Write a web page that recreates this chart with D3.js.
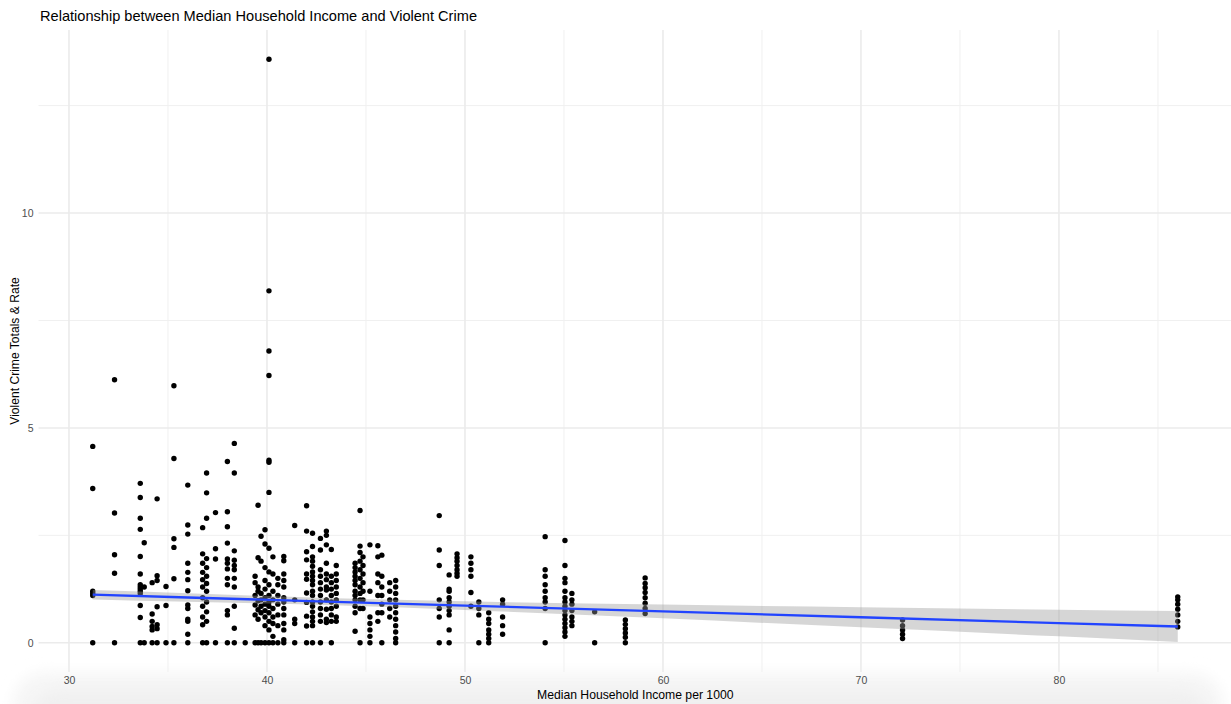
<!DOCTYPE html>
<html>
<head>
<meta charset="utf-8">
<script src="https://cdn.jsdelivr.net/npm/d3@7"></script>
<style>
  html, body { margin: 0; padding: 0; background: #ffffff; }
  svg { display: block; font-family: "Liberation Sans", Arial, Helvetica, sans-serif; }
</style>
</head>
<body>
<svg id="chart" width="1231" height="704"></svg>
<script>
// Median household income (thousands) for each group of cities
const incomeGroups = [
  31.2, 32.3, 33.6, 33.8, 34.2, 34.45, 34.9, 35.3, 36.0, 36.75,
  36.95, 37.4, 38.0, 38.35, 38.9, 39.4, 39.55, 39.7, 39.9, 40.1,
  40.3, 40.55, 40.85, 41.4, 42.0, 42.3, 42.7, 43.0, 43.25, 43.5,
  44.45, 44.7, 44.85, 45.2, 45.6, 45.8, 46.2, 46.5, 48.7, 49.2,
  49.6, 50.3, 50.7, 51.2, 51.9, 54.05, 55.05, 55.4, 56.55, 58.1,
  59.1, 72.1, 86.0
];

// Violent crime totals & rate observed within each income group
const crimeRates = [
  [4.57, 3.59, 1.2, 1.15, 1.1, 0],
  [6.12, 3.02, 2.05, 1.62, 0],
  [3.71, 3.38, 2.9, 2.64, 2.01, 1.6, 1.35, 1.3, 1.25, 1.2, 1.15, 0.87, 0.59, 0],
  [2.33, 1.3, 0],
  [1.4, 0.67, 0.5, 0.38, 0.3, 0],
  [3.35, 1.56, 1.45, 0.84, 0.42, 0.33, 0],
  [1.31, 0.87, 0],
  [5.98, 4.29, 2.42, 2.22, 1.49, 0],
  [3.67, 2.74, 2.53, 1.85, 1.64, 1.47, 1.21, 0.88, 0.8, 0.55, 0.5, 0.2, 0],
  [2.68, 2.07, 1.85, 1.64, 1.47, 1.3, 1.05, 0.85, 0.6, 0.42, 0],
  [3.95, 3.49, 2.9, 1.96, 1.75, 1.55, 1.38, 1.2, 0.95, 0.72, 0.5, 0],
  [3.03, 2.19, 1.95, 0],
  [4.22, 3.05, 2.7, 2.32, 1.95, 1.85, 1.72, 1.5, 1.35, 0.75, 0.65, 0],
  [4.64, 3.95, 2.14, 1.92, 1.8, 1.7, 1.5, 1.3, 0.85, 0.34, 0],
  [0],
  [1.55, 1.4, 1.1, 0.88, 0.65, 0],
  [3.2, 1.98, 1.3, 1.2, 0.98, 0.77, 0.55, 0],
  [2.48, 1.9, 1.15, 1.0, 0.85, 0.7, 0],
  [2.63, 2.3, 1.75, 1.45, 1.25, 1.05, 0.9, 0.75, 0.6, 0.4, 0],
  [13.58, 8.19, 6.79, 6.22, 4.25, 4.2, 3.5, 2.2, 1.65, 1.35, 1.1, 0.95, 0.85, 0.7, 0.5, 0.3, 0],
  [2.0, 1.6, 1.2, 1.0, 0.8, 0.6, 0.45, 0.15, 0],
  [1.5, 1.35, 1.1, 0.9, 0.65, 0.4, 0],
  [2.01, 1.91, 1.6, 1.45, 1.3, 1.05, 0.95, 0.8, 0.65, 0.45, 0.3, 0.07, 0],
  [2.73, 1.0, 0.55, 0.45, 0],
  [3.19, 2.6, 2.12, 1.93, 1.6, 1.48, 1.16, 0.94, 0.62, 0.39, 0],
  [2.55, 2.24, 2.0, 1.9, 1.78, 1.65, 1.55, 1.45, 1.35, 1.2, 1.1, 0.95, 0.85, 0.72, 0.6, 0.5, 0.4, 0],
  [2.43, 2.16, 1.7, 1.55, 1.4, 1.25, 1.1, 0.95, 0.8, 0.65, 0.5, 0],
  [2.6, 2.5, 2.28, 1.85, 1.6, 1.47, 1.3, 1.23, 1.0, 0.78, 0.55, 0.47],
  [2.17, 1.55, 1.4, 1.25, 1.1, 0.95, 0.8, 0.65, 0.5, 0],
  [1.8, 1.6, 1.45, 1.3, 1.15, 1.0, 0.85, 0.6, 0.5],
  [1.85, 1.75, 1.65, 1.55, 1.45, 1.35, 1.2, 1.1, 1.0, 0.85, 0.7, 0.27],
  [3.08, 2.25, 2.1, 1.9, 1.7, 1.5, 1.3, 1.15, 1.0, 0.8, 0],
  [2.0, 1.8, 1.6, 1.4, 1.2, 1.0, 0.8],
  [2.28, 1.2, 0.6, 0.45, 0.3, 0.15, 0],
  [2.26, 2.0, 1.6, 1.4, 1.1, 0.7, 0.5],
  [2.04, 1.55, 1.3, 1.1, 0.9, 0.7, 0],
  [1.4, 1.2, 1.0, 0.8, 0.6],
  [1.45, 1.3, 1.15, 1.0, 0.85, 0.7, 0.55, 0.4, 0.25, 0.1, 0],
  [2.96, 2.16, 1.8, 1.0, 0.8, 0.6, 0],
  [1.58, 1.25, 1.2, 1.05, 0.95, 0.85, 0.75, 0.65, 0.3, 0],
  [2.07, 1.98, 1.9, 1.8, 1.7, 1.62, 1.55],
  [2.0, 1.85, 1.7, 1.55, 1.17, 0.85],
  [0.95, 0.8, 0.65, 0],
  [0.7, 0.55, 0.45, 0.3, 0.2, 0.1, 0],
  [1.0, 0.9, 0.6, 0.4, 0.2],
  [2.47, 1.7, 1.55, 1.35, 1.2, 1.05, 0.95, 0.8, 0],
  [2.38, 1.8, 1.5, 1.4, 1.2, 1.05, 0.95, 0.85, 0.75, 0.65, 0.55, 0.45, 0.35, 0.25, 0.15],
  [1.15, 1.0, 0.9, 0.75, 0.6, 0.5, 0.4],
  [0.72, 0],
  [0.53, 0.43, 0.33, 0.23, 0.13, 0],
  [1.51, 1.38, 1.28, 1.17, 1.05, 0.92, 0.8, 0.68],
  [0.53, 0.4, 0.3, 0.2, 0.1],
  [1.07, 1.0, 0.9, 0.78, 0.65, 0.5, 0.37]
];

// Linear fit with its 95% confidence band
const fitIncome = [31.2, 36, 43, 50, 60, 70, 80, 86];
const fitValue  = [1.12, 1.055, 0.96, 0.865, 0.73, 0.595, 0.46, 0.38];
const fitLower  = [1.01, 0.955, 0.88, 0.765, 0.57, 0.36, 0.15, 0.02];
const fitUpper  = [1.23, 1.155, 1.04, 0.965, 0.89, 0.83, 0.77, 0.74];

// Axis ticks
const xMajorTicks = [30, 40, 50, 60, 70, 80];
const xMinorTicks = [35, 45, 55, 65, 75, 85];
const yMajorTicks = [0, 5, 10];
const yMinorTicks = [2.5, 7.5, 12.5];

const titleText = "Relationship between Median Household Income and Violent Crime";
const xTitle = "Median Household Income per 1000";
const yTitle = "Violent Crime Totals & Rate";

const points = incomeGroups.flatMap((inc, i) => crimeRates[i].map(v => ({ x: inc, y: v })));
const fit = fitIncome.map((x, i) => ({ x, y: fitValue[i], lo: fitLower[i], hi: fitUpper[i] }));

const svg = d3.select("#chart");
const panel = { left: 38.5, right: 1232, top: 30, bottom: 672 };

// Scales padded by 5% of the data range on each side
const xExt = d3.extent(points, d => d.x);
const yExt = d3.extent(points, d => d.y);
const xPad = (xExt[1] - xExt[0]) * 0.05;
const yPad = (yExt[1] - yExt[0]) * 0.05;
const x = d3.scaleLinear().domain([xExt[0] - xPad, xExt[1] + xPad]).range([panel.left, panel.right]);
const y = d3.scaleLinear().domain([yExt[0] - yPad, yExt[1] + yPad]).range([panel.bottom, panel.top]);

// Soft rounded shade along the bottom edge
const defs = svg.append("defs");
const blur = defs.append("filter").attr("id", "soft").attr("x", "-5%").attr("y", "-50%").attr("width", "110%").attr("height", "200%");
blur.append("feGaussianBlur").attr("stdDeviation", 7);
svg.append("rect").attr("x", 12).attr("y", 672).attr("width", 1212).attr("height", 70)
  .attr("rx", 34).attr("fill", "#f6f6f6").attr("filter", "url(#soft)");
svg.append("rect").attr("x", 30).attr("y", 690).attr("width", 1180).attr("height", 60)
  .attr("rx", 30).attr("fill", "#f0f0f0").attr("filter", "url(#soft)");

// Grid
const grid = svg.append("g");
grid.selectAll(".ym").data(yMinorTicks).join("line")
  .attr("x1", panel.left).attr("x2", panel.right)
  .attr("y1", d => y(d)).attr("y2", d => y(d))
  .attr("stroke", "#f0f0f0").attr("stroke-width", 1);
grid.selectAll(".xm").data(xMinorTicks).join("line")
  .attr("y1", panel.top).attr("y2", panel.bottom)
  .attr("x1", d => x(d)).attr("x2", d => x(d))
  .attr("stroke", "#f0f0f0").attr("stroke-width", 1);
grid.selectAll(".yM").data(yMajorTicks).join("line")
  .attr("x1", panel.left).attr("x2", panel.right)
  .attr("y1", d => y(d)).attr("y2", d => y(d))
  .attr("stroke", "#ebebeb").attr("stroke-width", 1.6);
grid.selectAll(".xM").data(xMajorTicks).join("line")
  .attr("y1", panel.top).attr("y2", panel.bottom)
  .attr("x1", d => x(d)).attr("x2", d => x(d))
  .attr("stroke", "#ebebeb").attr("stroke-width", 1.6);

// Axes (labels only, no domain line or tick marks)
const xAxis = svg.append("g").attr("transform", `translate(0,${panel.bottom})`)
  .call(d3.axisBottom(x).tickValues(xMajorTicks).tickSize(0).tickPadding(5));
const yAxis = svg.append("g").attr("transform", `translate(${panel.left},0)`)
  .call(d3.axisLeft(y).tickValues(yMajorTicks).tickSize(0).tickPadding(5));
[xAxis, yAxis].forEach(a => {
  a.select(".domain").remove();
  a.selectAll("text").attr("fill", "#4d4d4d").attr("font-size", 10.5)
    .attr("font-family", "'Liberation Sans', Arial, sans-serif");
});

// Points
svg.append("g").selectAll("circle").data(points).join("circle")
  .attr("cx", d => x(d.x)).attr("cy", d => y(d.y)).attr("r", 2.7).attr("fill", "#000");

// Confidence band and fitted line
svg.append("path").datum(fit)
  .attr("d", d3.area().x(d => x(d.x)).y0(d => y(d.lo)).y1(d => y(d.hi)).curve(d3.curveMonotoneX))
  .attr("fill", "#999999").attr("fill-opacity", 0.4);
svg.append("path").datum(fit)
  .attr("d", d3.line().x(d => x(d.x)).y(d => y(d.y)))
  .attr("fill", "none").attr("stroke", "#2244FF").attr("stroke-width", 2.3);

// Titles
svg.append("text").attr("x", 40).attr("y", 21).attr("font-size", 14.6).attr("fill", "#000").text(titleText);
svg.append("text").attr("x", (panel.left + panel.right) / 2).attr("y", 699)
  .attr("text-anchor", "middle").attr("font-size", 12.2).attr("fill", "#000").text(xTitle);
svg.append("text").attr("transform", `translate(19,${(panel.top + panel.bottom) / 2}) rotate(-90)`)
  .attr("text-anchor", "middle").attr("font-size", 12.1).attr("fill", "#000").text(yTitle);
</script>
</body>
</html>
